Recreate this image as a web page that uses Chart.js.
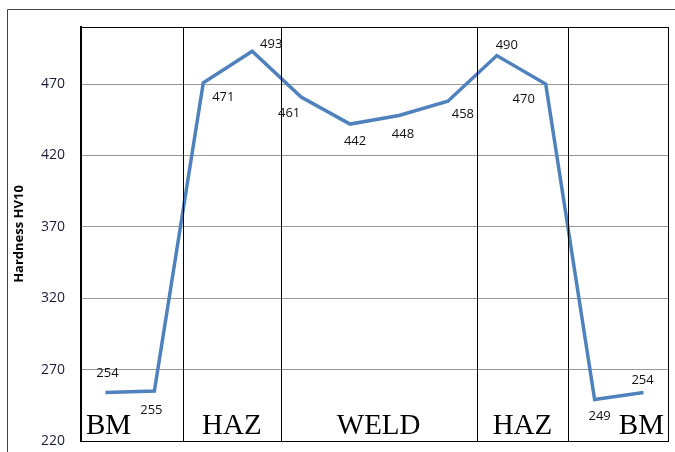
<!DOCTYPE html>
<html lang="en">
<head>
    <meta charset="UTF-8" />
    <script src="https://cdn.jsdelivr.net/npm/chart.js@4"></script>
    <title>Hardness HV10</title>
    <style>
        body { margin: 0; background: #fff; }
        canvas { display: block; }
    </style>
</head>
<body>
<canvas id="myChart" width="675" height="452"></canvas>
<script>
    // measurement points along the weld
    const positions = ['1', '2', '3', '4', '5', '6', '7', '8', '9', '10', '11', '12'];
    const hardness = [254, 255, 471, 493, 461, 442, 448, 458, 490, 470, 249, 254];
    const yTicks = [220, 270, 320, 370, 420, 470];
    // zones and the borders between them (in point-index units)
    const zoneNames = ['BM', 'HAZ', 'WELD', 'HAZ', 'BM'];
    const zoneBorders = [1.59, 3.58, 7.59, 9.46];

    // where each value label sits relative to its point (px)
    const labelOffsets = [[2, -19], [-3, 19], [20, 15], [19, -7], [-12, 16], [5, 17],
        [4, 19], [15, 13], [10, -10], [-22, 15], [5, 17], [-1, -12]];

    const frame = {
        id: 'frame',
        beforeDraw(chart) {
            const c = chart.ctx;
            c.save();
            c.strokeStyle = '#444';
            c.lineWidth = 1;
            c.beginPath();
            c.moveTo(7.5, 452);
            c.lineTo(7.5, 9.5);
            c.lineTo(675, 9.5);
            c.stroke();
            c.restore();
        },
        afterDatasetsDraw(chart) {
            const c = chart.ctx;
            const a = chart.chartArea;
            const xs = chart.scales.x;
            const ys = chart.scales.y;
            c.save();
            c.strokeStyle = '#000';
            c.lineWidth = 1;
            c.strokeRect(a.left + 0.5, a.top + 0.5, a.right - a.left, a.bottom - a.top);
            zoneBorders.forEach(b => {
                const px = Math.round(xs.getPixelForValue(b)) + 0.5;
                c.beginPath();
                c.moveTo(px, a.top);
                c.lineTo(px, a.bottom);
                c.stroke();
            });
            // zone names
            const edges = [a.left].concat(zoneBorders.map(b => xs.getPixelForValue(b)), [a.right]);
            c.fillStyle = '#000';
            c.font = '29px "Liberation Serif", serif';
            c.textBaseline = 'alphabetic';
            zoneNames.forEach((z, i) => {
                if (i === 0) {
                    c.textAlign = 'left';
                    c.fillText(z, edges[0] + 5, a.bottom - 7);
                } else if (i === zoneNames.length - 1) {
                    c.textAlign = 'right';
                    c.fillText(z, edges[i + 1] - 4, a.bottom - 7);
                } else {
                    c.textAlign = 'center';
                    c.fillText(z, (edges[i] + edges[i + 1]) / 2, a.bottom - 7);
                }
            });
            // value labels
            c.font = '13px "Open Sans", sans-serif';
            c.textAlign = 'center';
            c.textBaseline = 'middle';
            c.fillStyle = '#111';
            hardness.forEach((v, i) => {
                const px = xs.getPixelForValue(i);
                const py = ys.getPixelForValue(v);
                c.fillText(String(v), px + labelOffsets[i][0], py + labelOffsets[i][1]);
            });
            c.restore();
        }
    };

    const ctx = document.getElementById('myChart').getContext('2d');
    const myChart = new Chart(ctx, {
        type: 'line',
        data: {
            labels: positions,
            datasets: [{
                data: hardness,
                borderColor: '#4F81BD',
                borderWidth: 3.5,
                pointRadius: 0,
                tension: 0,
                fill: false
            }]
        },
        options: {
            responsive: false,
            animation: false,
            layout: { padding: { left: 0, top: 27, right: 7, bottom: 11 } },
            plugins: {
                legend: { display: false },
                tooltip: { enabled: false }
            },
            scales: {
                x: {
                    type: 'category',
                    offset: true,
                    display: false
                },
                y: {
                    min: 220,
                    max: 510,
                    afterBuildTicks: s => { s.ticks = yTicks.map(v => ({ value: v })); },
                    afterFit: s => {
                        s.width = 81;
                        s.paddingTop = 0;
                        s.paddingBottom = 0;
                    },
                    grid: { color: '#999', lineWidth: 1, drawTicks: false },
                    border: { color: '#000', width: 2 },
                    ticks: {
                        padding: 16,
                        color: '#1c1c3c',
                        font: { family: 'Open Sans', size: 14 }
                    },
                    title: {
                        display: true,
                        text: 'Hardness HV10',
                        color: '#000',
                        font: { family: 'Open Sans', size: 13, weight: 'bold' },
                        padding: { top: 11, bottom: 4 }
                    }
                }
            }
        },
        plugins: [frame]
    });
</script>
</body>
</html>
